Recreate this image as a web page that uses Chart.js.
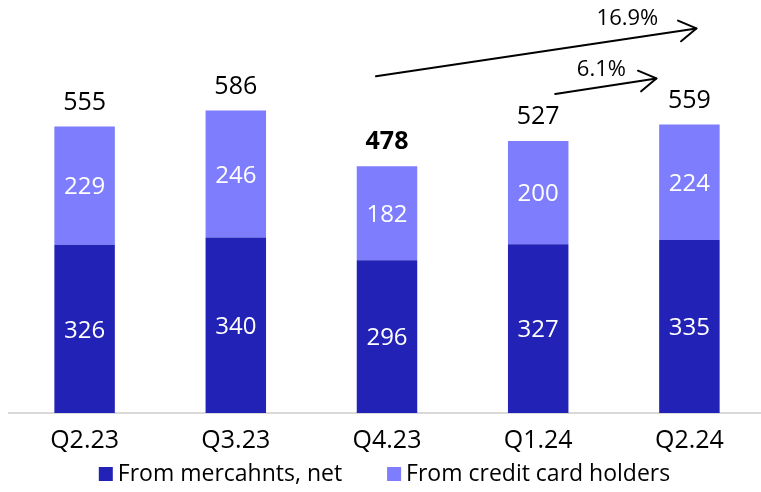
<!DOCTYPE html>
<html><head><meta charset="utf-8">
<script src="https://cdn.jsdelivr.net/npm/chart.js@4"></script>
<style>html,body{margin:0;padding:0;background:#fff;overflow:hidden;width:761px;height:492px}#wrap{width:765px;height:492px}</style>
</head><body><div id="wrap"><canvas id="c"></canvas></div>
<script>
const categories = ['Q2.23','Q3.23','Q4.23','Q1.24','Q2.24'];
const fromMerchants = [326,340,296,327,335];
const fromCardHolders = [229,246,182,200,224];
const totals = [555,586,478,527,559];
const boldTotals = ['Q4.23'];
const arrowFrom = ['Q4.23','Q1.24'];
const arrowTo = ['Q2.24','Q2.24'];
const arrowLabels = ['16.9%','6.1%'];
const seriesNames = ['From mercahnts, net','From credit card holders'];

const FONT = "'Open Sans', 'DejaVu Sans', sans-serif";
const DARK = '#2222b6', LIGHT = '#7d7dfe';

const labelPlugin = {
  id:'labels',
  afterDatasetsDraw(chart){
    const ctx = chart.ctx, xs = chart.scales.x, ys = chart.scales.y;
    ctx.save();
    ctx.textAlign='center'; ctx.textBaseline='middle';
    chart.data.datasets.forEach((ds,di)=>{
      const meta = chart.getDatasetMeta(di);
      meta.data.forEach((bar,i)=>{
        ctx.fillStyle='#fff'; ctx.font = "24px "+FONT;
        ctx.fillText(String(ds.data[i]), bar.x, (bar.y+bar.base)/2+2);
      });
    });
    categories.forEach((c,i)=>{
      const x = xs.getPixelForValue(i), y = ys.getPixelForValue(totals[i]);
      ctx.fillStyle='#000';
      ctx.font = (boldTotals.includes(c)?'bold ':'')+"25px "+FONT;
      ctx.fillText(String(totals[i]), x, y-24);
    });
    // arrows
    const cfg = [
      {sx:-11, sy:-90, ex:7, ey:-96, lx:-62, ly:-106},
      {sx:17, sy:-47, ex:-33, ey:-46, lx:-88, ly:-55}
    ];
    ctx.strokeStyle='#000'; ctx.lineWidth=2; ctx.lineCap='round'; ctx.lineJoin='round';
    arrowFrom.forEach((f,k)=>{
      const i0 = categories.indexOf(f), i1 = categories.indexOf(arrowTo[k]);
      const x0 = xs.getPixelForValue(i0)+cfg[k].sx, y0 = ys.getPixelForValue(totals[i0])+cfg[k].sy;
      const x1 = xs.getPixelForValue(i1)+cfg[k].ex, y1 = ys.getPixelForValue(totals[i1])+cfg[k].ey;
      ctx.beginPath(); ctx.moveTo(x0,y0); ctx.lineTo(x1,y1); ctx.stroke();
      const a = Math.atan2(y1-y0,x1-x0), L=20, s=0.55;
      ctx.beginPath();
      ctx.moveTo(x1-L*Math.cos(a-s), y1-L*Math.sin(a-s));
      ctx.lineTo(x1,y1);
      ctx.lineTo(x1-L*Math.cos(a+s), y1-L*Math.sin(a+s));
      ctx.stroke();
      ctx.fillStyle='#000'; ctx.font="22px "+FONT;
      ctx.fillText(arrowLabels[k], xs.getPixelForValue(i1)+cfg[k].lx, ys.getPixelForValue(totals[i1])+cfg[k].ly);
    });
    ctx.restore();
  },
  afterDraw(chart){
    // legend
    const ctx = chart.ctx;
    ctx.save();
    ctx.font = "23px "+FONT; ctx.textBaseline='middle'; ctx.textAlign='left';
    const box=14, gapT=5, gapItem=45, cy=474;
    const colors=[DARK,LIGHT];
    const widths = seriesNames.map(n=>ctx.measureText(n).width);
    const total = widths.reduce((a,w)=>a+box+gapT+w,0)+gapItem*(seriesNames.length-1);
    let x = (761-total)/2+4;
    seriesNames.forEach((n,i)=>{
      ctx.fillStyle=colors[i]; ctx.fillRect(x, cy-7, box, box);
      ctx.fillStyle='#000'; ctx.fillText(n, x+box+gapT, cy);
      x += box+gapT+widths[i]+gapItem;
    });
    ctx.restore();
  }
};

new Chart(document.getElementById('c'),{
  type:'bar',
  data:{labels:categories, datasets:[
    {label:seriesNames[0], data:fromMerchants, backgroundColor:DARK, barPercentage:0.4, categoryPercentage:1},
    {label:seriesNames[1], data:fromCardHolders, backgroundColor:LIGHT, barPercentage:0.4, categoryPercentage:1}
  ]},
  options:{
    responsive:true, maintainAspectRatio:false, animation:false,
    layout:{padding:{left:9,right:0,top:0,bottom:31}},
    plugins:{
      legend:{display:false},
      tooltip:{enabled:false}
    },
    scales:{
      x:{stacked:true, grid:{display:false}, border:{display:true,color:'#d9d9d9',width:2},
         ticks:{color:'#000', font:{family:FONT,size:25}, padding:5}},
      y:{stacked:true, display:false, min:0, max:800}
    }
  },
  plugins:[labelPlugin]
});
</script></body></html>
